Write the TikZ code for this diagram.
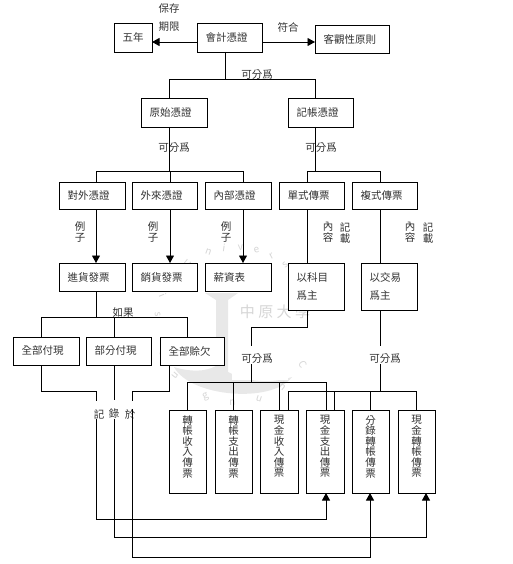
\documentclass[tikz,border=0pt]{standalone}
\usepackage{fontspec}
\setmainfont{Noto Sans CJK TC}
\usetikzlibrary{arrows.meta}
\tikzset{
  lin/.style={draw=black,line width=0.8pt},
  arr/.style={lin,-{Triangle[length=7.5pt,width=8pt]}},
  boxs/.style={draw=black,fill=white,line width=0.8pt,outer sep=0pt,inner ysep=0pt,inner xsep=8.5pt,align=left,text=black!80,font=\fontsize{10.5}{18}\selectfont},
  vbox/.style={draw=black,fill=white,line width=0.8pt,outer sep=0pt,inner sep=0pt,align=center,text=black!80,font=\fontsize{10.5}{10.6}\selectfont},
  lab/.style={inner sep=0pt,text=black!80,font=\fontsize{10.5}{11}\selectfont,align=center},
  wm/.style={text=black!16,inner sep=0pt}
}
\newcommand{\bx}[6]{%
  \pgfmathsetmacro{\bw}{#4-#2}\pgfmathsetmacro{\bh}{#5-#3}%
  \pgfmathsetmacro{\tw}{\bw-17}\pgfmathsetmacro{\cxx}{(#2+#4)/2}\pgfmathsetmacro{\cyy}{(#3+#5)/2}%
  \node[boxs,text width=\tw pt,minimum height=\bh pt] (#1) at (\cxx,\cyy) {#6};}
\newcommand{\vb}[4]{%
  \pgfmathsetmacro{\cxx}{(#2+#3)/2}\pgfmathsetmacro{\bw}{#3-#2}%
  \node[vbox,minimum width=\bw pt,minimum height=83pt] (#1) at (\cxx,451.5) {#4\\~};}
\begin{document}
\begin{tikzpicture}[x=1pt,y=-1pt]
\useasboundingbox (0,0) rectangle (512,564);
\fill[white] (0,0) rectangle (512,564);
% watermark
\fill[black!9] (174,367) .. controls (190,397) and (272,404) .. (292,377) .. controls (270,384) and (248,382) .. (228,372) -- (228,300) -- (238,293) -- (205,293) -- (216,300) -- (216,366) .. controls (205,372) and (190,372) .. (174,367) -- cycle;
\foreach \a/\l in {-172/s,-158/i,-128/U,-110/n,-98/i,-86/v,-74/e,-62/r,-50/s}{
  \node[wm,rotate=\a+90,font=\fontsize{10}{10}\selectfont] (wm\a) at ({235+78*cos(\a)},{325+78*sin(\a)}) {\l};}
\foreach \a/\l in {30/C,52/h,72/u,92/n,112/g,140/u,158/a}{
  \node[wm,rotate=\a-90,font=\fontsize{10}{10}\selectfont] (wmb\a) at ({235+78*cos(\a)},{325+78*sin(\a)}) {\l};}
\node[wm,font=\fontsize{15}{15}\selectfont] (wmt) at (275,312) {中 原 大 學};
% boxes
\bx{wn}{114}{23}{152}{52}{五年}
\bx{kj}{197}{23}{262}{52}{會計憑證}
\bx{kg}{315}{25}{389}{53}{客觀性原則}
\bx{ys}{141}{98}{207}{127}{原始憑證}
\bx{jz}{288}{98}{353}{127}{記帳憑證}
\bx{dw}{59}{182}{125}{209}{對外憑證}
\bx{wl}{132}{182}{197}{209}{外來憑證}
\bx{nb}{205}{182}{271}{209}{內部憑證}
\bx{ds}{279}{182}{344}{209}{單式傳票}
\bx{fs}{352}{182}{417}{209}{複式傳票}
\bx{jh}{59}{263}{125}{291}{進貨發票}
\bx{xh}{132}{263}{197}{291}{銷貨發票}
\bx{xz}{205}{263}{271}{291}{薪資表}
\bx{km}{288}{263}{344}{310}{以科目\\爲主}
\bx{jy}{361}{263}{417}{310}{以交易\\爲主}
\bx{qf}{13}{337}{79}{365}{全部付現}
\bx{bf}{86}{337}{151}{365}{部分付現}
\bx{qs}{160}{337}{224}{365}{全部賒欠}
\vb{v1}{169}{206}{轉\\帳\\收\\入\\傳\\票}
\vb{v2}{215}{252}{轉\\帳\\支\\出\\傳\\票}
\vb{v3}{260}{298}{現\\金\\收\\入\\傳\\票}
\vb{v4}{306}{344}{現\\金\\支\\出\\傳\\票}
\vb{v5}{352}{389}{分\\錄\\轉\\帳\\傳\\票}
\vb{v6}{398}{435}{現\\金\\轉\\帳\\傳\\票}
% white label patches and labels
\fill[white] (232,346) rectangle (288,380);
\node[lab] (l1) at (169,9) {保存};
\node[lab] (l2) at (169,27) {期限};
\node[lab] (l3) at (288,27) {符合};
\node[lab] (l4) at (257,75) {可分爲};
\node[lab] (l5) at (174,148) {可分爲};
\node[lab] (l6) at (321,148) {可分爲};
\node[lab] (l7) at (80,232.5) {例\\子};
\node[lab] (l8) at (153,232.5) {例\\子};
\node[lab] (l9) at (226,232.5) {例\\子};
\node[lab] (l10) at (328,232.5) {內\\容};
\node[lab] (l11) at (345,232.5) {記\\載};
\node[lab] (l12) at (410,232.5) {內\\容};
\node[lab] (l13) at (428,232.5) {記\\載};
\node[lab] (l14) at (123,313) {如果};
\node[lab] (l15) at (257,359) {可分爲};
\node[lab] (l16) at (385,359) {可分爲};
\node[lab] (l17) at (99,414) {記};
\node[lab] (l18) at (114,414) {錄};
\node[lab] (l19) at (130,414) {於};
% connectors
\draw[arr] (kj.west |- 0,42) -- (wn.east |- 0,42);
\draw[arr] (kj.east |- 0,42) -- (kg.west |- 0,42);
\coordinate (t1) at (225,79);
\draw[lin] (kj.south -| t1) -- (t1);
\draw[lin] (ys.north -| 169,0) -- (169,79) -- (315,79) -- (jz.north -| 315,0);
\draw[lin] (ys.south -| 169,0) -- (169,171);
\draw[lin] (jz.south -| 315,0) -- (315,171);
\draw[lin] (dw.north -| 96,0) -- (96,171) -- (243,171) -- (nb.north -| 243,0);
\draw[lin] (wl.north -| 170,0) -- (170,171);
\draw[lin] (ds.north -| 307,0) -- (307,171) -- (380,171) -- (fs.north -| 380,0);
\draw[arr] (dw.south -| 96,0) -- (jh.north -| 96,0);
\draw[arr] (wl.south -| 170,0) -- (xh.north -| 170,0);
\draw[arr] (nb.south -| 243,0) -- (xz.north -| 243,0);
\draw[lin] (ds.south -| 307,0) -- (km.north -| 307,0);
\draw[lin] (fs.south -| 380,0) -- (jy.north -| 380,0);
\draw[lin] (jh.south -| 96,0) -- (96,317);
\draw[lin] (qf.north -| 41,0) -- (41,317) -- (187,317) -- (qs.north -| 187,0);
\draw[lin] (bf.north -| 114,0) -- (114,317);
\draw[lin] (qf.south -| 41,0) -- (41,391) -- (96,391) -- (96,401);
\draw[lin] (bf.south -| 114,0) -- (114,400);
\draw[lin] (qs.south -| 169,0) -- (169,391) -- (132,391) -- (132,401);
\draw[arr] (l17.south -| 96,0) -- (96,519) -- (326,519) -- (v4.south -| 326,0);
\draw[arr] (l18.south -| 114,0) -- (114,537) -- (426,537) -- (v6.south -| 426,0);
\draw[arr] (l19.north -| 132,0) -- (132,557) -- (370,557) -- (v5.south -| 370,0);
\draw[lin] (km.south -| 307,0) -- (307,327) -- (251,327) -- (251,346);
\draw[lin] (l15.south -| 251,0) -- (251,382);
\draw[lin] (v1.north -| 187,0) -- (187,382) -- (326,382) -- (v4.north -| 326,0);
\draw[lin] (v2.north -| 233,0) -- (233,382);
\draw[lin] (v3.north -| 279,0) -- (279,382);
\draw[lin] (jy.south -| 380,0) -- (380,346);
\draw[lin] (l16.south -| 380,0) -- (380,391);
\draw[lin] (v3.north -| 288,0) -- (288,391) -- (416,391) -- (v6.north -| 416,0);
\draw[lin] (v4.north -| 334,0) -- (334,391);
\draw[lin] (v5.north -| 370,0) -- (370,391);
\end{tikzpicture}
\end{document}
